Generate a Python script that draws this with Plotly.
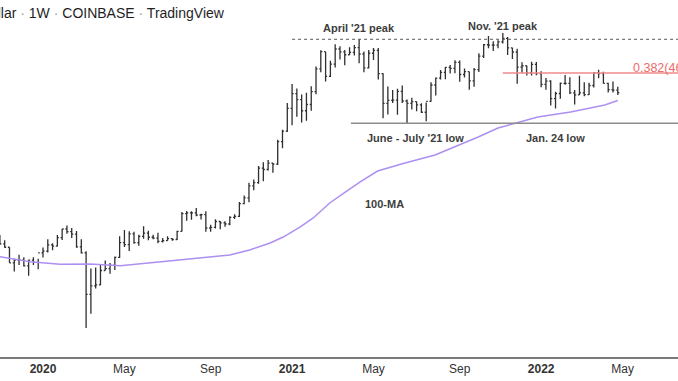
import plotly.graph_objects as go

# ---------------- data ----------------
weeks = [
    "2019-10-28", "2019-11-04", "2019-11-11", "2019-11-18", "2019-11-25", "2019-12-02", "2019-12-09",
    "2019-12-16", "2019-12-23", "2019-12-30", "2020-01-06", "2020-01-13", "2020-01-20", "2020-01-27",
    "2020-02-03", "2020-02-10", "2020-02-17", "2020-02-24", "2020-03-02", "2020-03-09", "2020-03-16",
    "2020-03-23", "2020-03-30", "2020-04-06", "2020-04-13", "2020-04-20", "2020-04-27", "2020-05-04",
    "2020-05-11", "2020-05-18", "2020-05-25", "2020-06-01", "2020-06-08", "2020-06-15", "2020-06-22",
    "2020-06-29", "2020-07-06", "2020-07-13", "2020-07-20", "2020-07-27", "2020-08-03", "2020-08-10",
    "2020-08-17", "2020-08-24", "2020-08-31", "2020-09-07", "2020-09-14", "2020-09-21", "2020-09-28",
    "2020-10-05", "2020-10-12", "2020-10-19", "2020-10-26", "2020-11-02", "2020-11-09", "2020-11-16",
    "2020-11-23", "2020-11-30", "2020-12-07", "2020-12-14", "2020-12-21", "2020-12-28", "2021-01-04",
    "2021-01-11", "2021-01-18", "2021-01-25", "2021-02-01", "2021-02-08", "2021-02-15", "2021-02-22",
    "2021-03-01", "2021-03-08", "2021-03-15", "2021-03-22", "2021-03-29", "2021-04-05", "2021-04-12",
    "2021-04-19", "2021-04-26", "2021-05-03", "2021-05-10", "2021-05-17", "2021-05-24", "2021-05-31",
    "2021-06-07", "2021-06-14", "2021-06-21", "2021-06-28", "2021-07-05", "2021-07-12", "2021-07-19",
    "2021-07-26", "2021-08-02", "2021-08-09", "2021-08-16", "2021-08-23", "2021-08-30", "2021-09-06",
    "2021-09-13", "2021-09-20", "2021-09-27", "2021-10-04", "2021-10-11", "2021-10-18", "2021-10-25",
    "2021-11-01", "2021-11-08", "2021-11-15", "2021-11-22", "2021-11-29", "2021-12-06", "2021-12-13",
    "2021-12-20", "2021-12-27", "2022-01-03", "2022-01-10", "2022-01-17", "2022-01-24", "2022-01-31",
    "2022-02-07", "2022-02-14", "2022-02-21", "2022-02-28", "2022-03-07", "2022-03-14", "2022-03-21",
    "2022-03-28", "2022-04-04", "2022-04-11", "2022-04-18", "2022-04-25",
]
open_ = [
    9250, 9200, 8780, 8500, 7300, 7500, 7500, 7080, 7500, 7330, 8050, 8180, 8700, 8600,
    9330, 10160, 9910, 9660, 8530, 8040, 5360, 5830, 5880, 6770, 6900, 7120, 7700, 8890,
    8720, 9680, 8900, 9450, 9750, 9370, 9300, 9000, 9070, 9240, 9170, 9930, 11800, 11900,
    11900, 11650, 11700, 10260, 10330, 10930, 10780, 10670, 11380, 11500, 13030, 13760, 15480, 15970,
    18420, 18170, 19360, 19170, 23850, 26440, 33000, 38150, 36000, 32270, 34300, 38900, 48600, 57500,
    45200, 50950, 59000, 57400, 55800, 57100, 59800, 56200, 49100, 56600, 58200, 46400, 34700, 35700,
    35800, 39000, 35500, 34700, 35300, 34200, 31800, 35400, 41500, 44400, 47000, 49300, 48800, 51800,
    46000, 47300, 43200, 48200, 55000, 61500, 61300, 61300, 63300, 65500, 59700, 57300, 49400, 50100,
    46700, 50800, 46400, 41800, 43100, 36300, 38200, 42200, 42200, 38400, 37700, 38400, 37800, 41300,
    46800, 46400, 42200, 39700, 39500,
]
high = [
    9950, 9580, 9100, 8500, 7600, 7900, 7700, 7520, 7700, 7600, 8470, 9190, 8830, 9570,
    10170, 10500, 10250, 9960, 9190, 8170, 6900, 6970, 7200, 7470, 7290, 7760, 9460, 10070,
    9950, 9900, 9600, 10430, 9990, 9600, 9800, 9300, 9470, 9280, 9990, 12000, 12100, 12070,
    12470, 11800, 12090, 10600, 11180, 10990, 10950, 11500, 11720, 13220, 14100, 15970, 16490, 18800,
    19500, 19920, 19420, 24300, 26800, 34800, 41950, 40100, 37850, 38500, 41000, 49700, 58350, 57500,
    52600, 61800, 60600, 58400, 60000, 61300, 64895, 57600, 58500, 59600, 59600, 46600, 40900, 39500,
    40000, 41300, 36000, 36600, 35300, 34700, 35000, 42600, 44700, 48100, 49500, 50500, 52900, 52800,
    48800, 47300, 49000, 56600, 62000, 67000, 63700, 64300, 69000, 66400, 59700, 59200, 51900, 50100,
    52100, 52000, 47500, 44400, 43500, 38900, 42500, 45800, 44800, 39500, 45400, 42600, 42400, 46900,
    48200, 47200, 42400, 42900, 40800,
]
low = [
    8950, 8700, 8450, 7300, 6700, 7150, 7050, 6430, 7150, 6860, 7680, 8070, 8250, 8560,
    9130, 9700, 9300, 8450, 8000, 3858, 4440, 5680, 5860, 6770, 6560, 6800, 7660, 8530,
    8200, 8800, 8630, 9240, 9100, 9200, 8830, 8900, 9060, 9050, 9130, 9910, 11000, 11130,
    11520, 11150, 9900, 9880, 10210, 10130, 10380, 10540, 11200, 11420, 12950, 13200, 14820, 15800,
    16200, 18000, 17600, 19000, 22350, 26200, 28000, 30400, 28800, 29300, 32300, 37900, 47000, 43000,
    44900, 49300, 53200, 50400, 55700, 55400, 51300, 47000, 48800, 53000, 43800, 30000, 31100, 34800,
    31000, 34800, 28600, 32700, 32100, 31600, 29100, 35200, 37500, 43800, 43900, 46400, 46600, 42800,
    44700, 39600, 40800, 47100, 54100, 59500, 57800, 59400, 62300, 55600, 53500, 42000, 46800, 45500,
    45600, 45700, 40600, 39600, 34000, 32950, 36300, 41600, 38000, 34300, 37600, 37200, 37600, 40500,
    44300, 42100, 38600, 38600, 37600,
]
close = [
    9200, 8780, 8500, 7300, 7500, 7500, 7080, 7500, 7330, 8050, 8180, 8700, 8600, 9330,
    10160, 9910, 9660, 8530, 8040, 5360, 5830, 5880, 6770, 6900, 7120, 7700, 8890, 8720,
    9680, 8900, 9450, 9750, 9370, 9300, 9000, 9070, 9240, 9170, 9930, 11800, 11900, 11900,
    11650, 11700, 10260, 10330, 10930, 10780, 10670, 11380, 11500, 13030, 13760, 15480, 15970, 18420,
    18170, 19360, 19170, 23850, 26440, 33000, 38150, 36000, 32270, 34300, 38900, 48600, 57500, 45200,
    50950, 59000, 57400, 55800, 57100, 59800, 56200, 49100, 56600, 58200, 46400, 34700, 35700, 35800,
    39000, 35500, 34700, 35300, 34200, 31800, 35400, 41500, 44400, 47000, 49300, 48800, 51800, 46000,
    47300, 43200, 48200, 55000, 61500, 61300, 61300, 63300, 65500, 59700, 57300, 49400, 50100, 46700,
    50800, 46400, 41800, 43100, 36300, 38200, 42200, 42200, 38400, 37700, 38400, 37800, 41300, 46800,
    46400, 42200, 39700, 39500, 38500,
]

# 100-week moving average
ma_dates = [
    "2019-11-04", "2019-12-18", "2020-01-31", "2020-03-15", "2020-04-28", "2020-06-10", "2020-07-28",
    "2020-10-05", "2020-11-03", "2020-12-03", "2020-12-22", "2021-01-16", "2021-02-04", "2021-02-28",
    "2021-03-27", "2021-04-13", "2021-05-09", "2021-06-18", "2021-08-01", "2021-08-30", "2021-10-03",
    "2021-11-01", "2021-11-26", "2021-12-29", "2022-02-15", "2022-04-06", "2022-04-25",
]
ma_values = [
    7750, 7380, 7190, 7220, 7090, 7290, 7500,
    7880, 8280, 8860, 9390, 10360, 11320, 13100,
    14870, 16080, 17900, 19360, 20940, 22650, 24960,
    27260, 28620, 30350, 31880, 34130, 35700,
]

# reference levels
april_peak = 64895
april_line_start = "2021-01-04"
june_july_low = 28550
low_line_start = "2021-03-31"
fib_level = 46721.41
fib_start = "2021-11-08"
fib_label = "0.382(46721.41)"

tick_dates = ["2020-01-06", "2020-05-04", "2020-09-07", "2021-01-04", "2021-05-03",
              "2021-09-06", "2022-01-03", "2022-05-02"]
tick_labels = ["<b>2020</b>", "May", "Sep", "<b>2021</b>", "May", "Sep", "<b>2022</b>", "May"]

x_range = ["2019-11-04 04:00", "2022-07-22"]
y_range_log = [3.46349, 4.97894]

# ---------------- figure ----------------
W, H = 678, 381
MT, MB = 0, 24
PH = H - MT - MB

def px(x, y):
    return x / W, 1 - (y - MT) / PH

fig = go.Figure()

fig.add_trace(go.Scatter(
    x=ma_dates, y=ma_values, mode="lines",
    line=dict(color="#ad8ff2", width=1.5), hoverinfo="skip", showlegend=False,
))

fig.add_trace(go.Ohlc(
    x=weeks, open=open_, high=high, low=low, close=close,
    increasing=dict(line=dict(color="#2f2f2f", width=1.3)),
    decreasing=dict(line=dict(color="#2f2f2f", width=1.3)),
    tickwidth=0.32, showlegend=False,
))

fig.add_shape(type="line", xref="x", yref="y", x0=april_line_start, x1=x_range[1],
              y0=april_peak, y1=april_peak, line=dict(color="#555555", width=1, dash="dot"))
fig.add_shape(type="line", xref="x", yref="y", x0=low_line_start, x1=x_range[1],
              y0=june_july_low, y1=june_july_low, line=dict(color="#8c8c8c", width=1.5))
fig.add_shape(type="line", xref="x", yref="y", x0=fib_start, x1=x_range[1],
              y0=fib_level, y1=fib_level, line=dict(color="#f08a8a", width=1.5))

label_font = dict(family="Liberation Sans, Arial, sans-serif", size=11, color="#3d3d3d")

def label(text, cx, cy, font=label_font, xanchor="center"):
    x, y = px(cx, cy)
    fig.add_annotation(text=text, x=x, y=y, xref="paper", yref="paper",
                       xanchor=xanchor, yanchor="middle", showarrow=False, font=font)

label("<b>April '21 peak</b>", 359.5, 28)
label("<b>Nov. '21 peak</b>", 502.5, 26)
label("<b>June - July '21 low</b>", 415, 138)
label("<b>Jan. 24 low</b>", 555, 138)
label("<b>100-MA</b>", 384.5, 204)
label(fib_label, 631, 68, font=dict(family="Liberation Sans, Arial, sans-serif", size=12.5, color="#ec6b6b"),
      xanchor="left")
dot = "<span style='color:#9a9a9a'> · </span>"
label("Bitcoin / U.S. Dollar" + dot + "1W" + dot + "COINBASE" + dot + "TradingView", 227, 13,
      font=dict(family="Liberation Sans, Arial, sans-serif", size=14, color="#1f1f1f"), xanchor="right")

fig.update_layout(
    width=W, height=H,
    margin=dict(l=0, r=0, t=MT, b=MB, pad=0),
    paper_bgcolor="white", plot_bgcolor="white",
    showlegend=False,
    font=dict(family="Liberation Sans, Arial, sans-serif", color="#333333"),
    xaxis=dict(
        type="date", range=x_range, rangeslider=dict(visible=False),
        showgrid=False, zeroline=False, showline=True, linecolor="#7a7a7a", linewidth=1.5,
        tickmode="array", tickvals=tick_dates, ticktext=tick_labels,
        ticks="", tickfont=dict(size=12, color="#333333"),
    ),
    yaxis=dict(
        type="log", range=y_range_log, showgrid=False, zeroline=False,
        showticklabels=False, showline=False, ticks="",
    ),
)

fig.write_html("out.html", config={"displayModeBar": False},
               post_script="document.body.style.margin='0';document.body.style.overflow='hidden';")
